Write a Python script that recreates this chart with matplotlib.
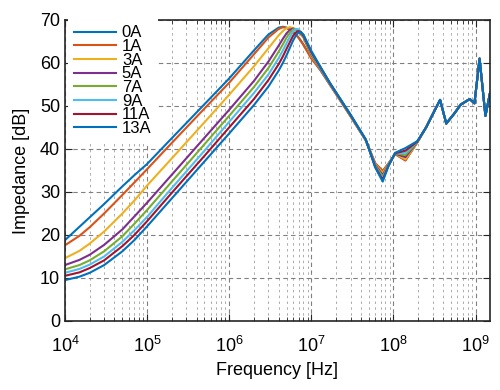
import matplotlib
matplotlib.use("Agg")
import matplotlib.pyplot as plt
from matplotlib.ticker import LogLocator, NullFormatter, MultipleLocator

plt.rcParams['font.family'] = ['Liberation Sans', 'DejaVu Sans']
plt.rcParams['mathtext.fontset'] = 'custom'
plt.rcParams['mathtext.rm'] = 'Liberation Sans'
plt.rcParams['mathtext.it'] = 'Liberation Sans'

# frequency points [Hz], up to 1e7 (rise and resonance peak)
freq_lo = [1e4, 1.5e4, 2e4, 3e4, 5e4, 7e4, 1e5, 2e5, 5e5, 1e6, 2e6, 3e6,
           4e6, 4.5e6, 5e6, 5.5e6, 6e6, 6.5e6, 7e6, 7.5e6, 8e6, 1e7]
# descent and first dip
freq_mid = [1.3e7, 1.7e7, 2.3e7, 3e7, 4.6e7, 6e7, 7.4e7, 8.7e7, 1.05e8, 1.4e8, 1.95e8]
# high frequency part, all currents overlap
freq_hi = [2.5e8, 3e8, 3.7e8, 4.4e8, 5.5e8, 6.6e8, 8.5e8, 9.7e8, 1.12e9, 1.32e9, 1.5e9]
z_hi = [45.0, 48.0, 51.4, 45.9, 48.2, 50.3, 51.6, 50.6, 61.0, 47.7, 53.0]

labels = ['0A', '1A', '3A', '5A', '7A', '9A', '11A', '13A']

z_0a = [18.8, 21.9, 24.1, 27.2, 31.3, 33.9, 36.5, 42.5, 50.4, 56.4, 62.9, 66.6,
        68.2, 68.4, 68.2, 67.8, 67.2, 66.6, 65.9, 65.1, 64.3, 61.2,
        58.2, 54.8, 51.0, 47.6, 42.0, 36.6, 34.8, 36.6, 38.8, 37.4, 41.5]
z_1a = [17.6, 19.8, 21.8, 25.0, 29.3, 32.2, 35.3, 41.4, 49.4, 55.4, 62.0, 65.9,
        67.9, 68.3, 68.1, 67.7, 67.2, 66.5, 65.8, 65.0, 64.2, 61.0,
        58.3, 54.8, 51.0, 47.6, 42.0, 36.7, 34.9, 36.6, 38.8, 37.3, 41.5]
z_3a = [14.6, 16.3, 18.0, 20.8, 25.0, 28.0, 31.5, 37.8, 46.2, 52.6, 59.2, 63.4,
        66.4, 67.4, 68.1, 68.3, 68.1, 67.7, 67.1, 66.5, 65.9, 61.6,
        58.5, 54.9, 51.1, 47.7, 42.0, 36.5, 34.4, 36.5, 38.9, 37.6, 41.5]
z_5a = [13.0, 14.2, 15.4, 17.7, 21.3, 24.3, 27.5, 34.0, 42.6, 49.1, 55.8, 60.3,
        64.0, 65.6, 66.9, 67.7, 68.0, 67.8, 67.2, 66.7, 66.1, 61.9,
        58.6, 55.0, 51.2, 47.8, 42.1, 36.3, 33.9, 36.4, 38.9, 38.1, 41.6]
z_7a = [12.0, 13.0, 14.1, 16.2, 19.7, 22.6, 25.8, 32.4, 41.1, 47.7, 54.4, 58.8,
        62.6, 64.3, 65.9, 67.0, 67.8, 67.9, 67.5, 66.9, 66.2, 62.1,
        58.7, 55.1, 51.2, 47.8, 42.1, 36.1, 33.5, 36.3, 39.0, 38.6, 41.6]
z_9a = [11.2, 12.1, 13.1, 15.0, 18.4, 21.1, 24.2, 30.9, 39.6, 46.3, 53.0, 57.3,
        61.1, 62.9, 64.6, 66.1, 67.3, 67.9, 67.8, 67.2, 66.5, 62.3,
        58.8, 55.1, 51.3, 47.9, 42.1, 35.9, 33.1, 36.2, 39.0, 39.1, 41.7]
z_11a = [10.5, 11.3, 12.3, 14.1, 17.4, 20.0, 23.2, 29.8, 38.4, 45.0, 51.6, 56.0,
         59.7, 61.5, 63.3, 64.9, 66.3, 67.1, 67.4, 67.1, 66.4, 62.5,
         58.9, 55.2, 51.3, 47.9, 42.2, 35.8, 32.8, 36.1, 39.0, 39.6, 41.7]
z_13a = [9.5, 10.3, 11.2, 13.0, 16.2, 18.8, 22.0, 28.5, 37.1, 43.6, 50.2, 54.5,
         58.2, 60.0, 61.8, 63.6, 65.2, 66.4, 67.1, 67.1, 66.6, 62.8,
         59.0, 55.2, 51.4, 48.0, 42.2, 35.7, 32.4, 36.0, 39.1, 40.2, 41.8]

colors = ['#0072BD', '#D95319', '#EDB120', '#7E2F8E',
          '#77AC30', '#4DBEEE', '#A2142F', '#0072BD']

freq = freq_lo + freq_mid + freq_hi
curves = [z_0a, z_1a, z_3a, z_5a, z_7a, z_9a, z_11a, z_13a]

fig = plt.figure(figsize=(5, 3.9), dpi=100)
ax = fig.add_axes([0.13, 0.177, 0.85, 0.772])

for z, lab, c in zip(curves, labels, colors):
    ax.semilogx(freq, z + z_hi, color=c, lw=1.5, label=lab)

ax.set_xlim(1e4, 1.5e9)
ax.set_ylim(0, 70)
ax.yaxis.set_major_locator(MultipleLocator(10))
ax.xaxis.set_major_locator(LogLocator(base=10, numticks=12))
ax.xaxis.set_minor_locator(LogLocator(base=10, subs=range(2, 10), numticks=12))
ax.xaxis.set_minor_formatter(NullFormatter())

ax.grid(True, which='major', color='#808080', linestyle=(0, (4, 3)), lw=0.8)
ax.grid(True, which='minor', axis='x', color='#a0a0a0', linestyle=(0, (3, 4)), lw=0.6)
ax.set_axisbelow(True)

ax.tick_params(which='both', direction='in', top=True, right=True, labelsize=13,
               color='#262626')
ax.tick_params(which='major', length=5)
ax.tick_params(which='minor', length=3)
ax.tick_params(axis='x', which='major', pad=11)
for s in ax.spines.values():
    s.set_color('#262626')
    s.set_linewidth(1.2)

ax.set_xlabel('Frequency [Hz]', fontsize=13, labelpad=4)
ax.set_ylabel('Impedance [dB]', fontsize=13, labelpad=7)

leg = ax.legend(loc='upper left', bbox_to_anchor=(0, 1.012), fontsize=12,
                frameon=True, fancybox=False, edgecolor='none', framealpha=1,
                handlelength=2.5, handletextpad=0.36, labelspacing=-0.08,
                borderaxespad=0.15, borderpad=0.4)

fig.savefig('out.png', dpi=100)
